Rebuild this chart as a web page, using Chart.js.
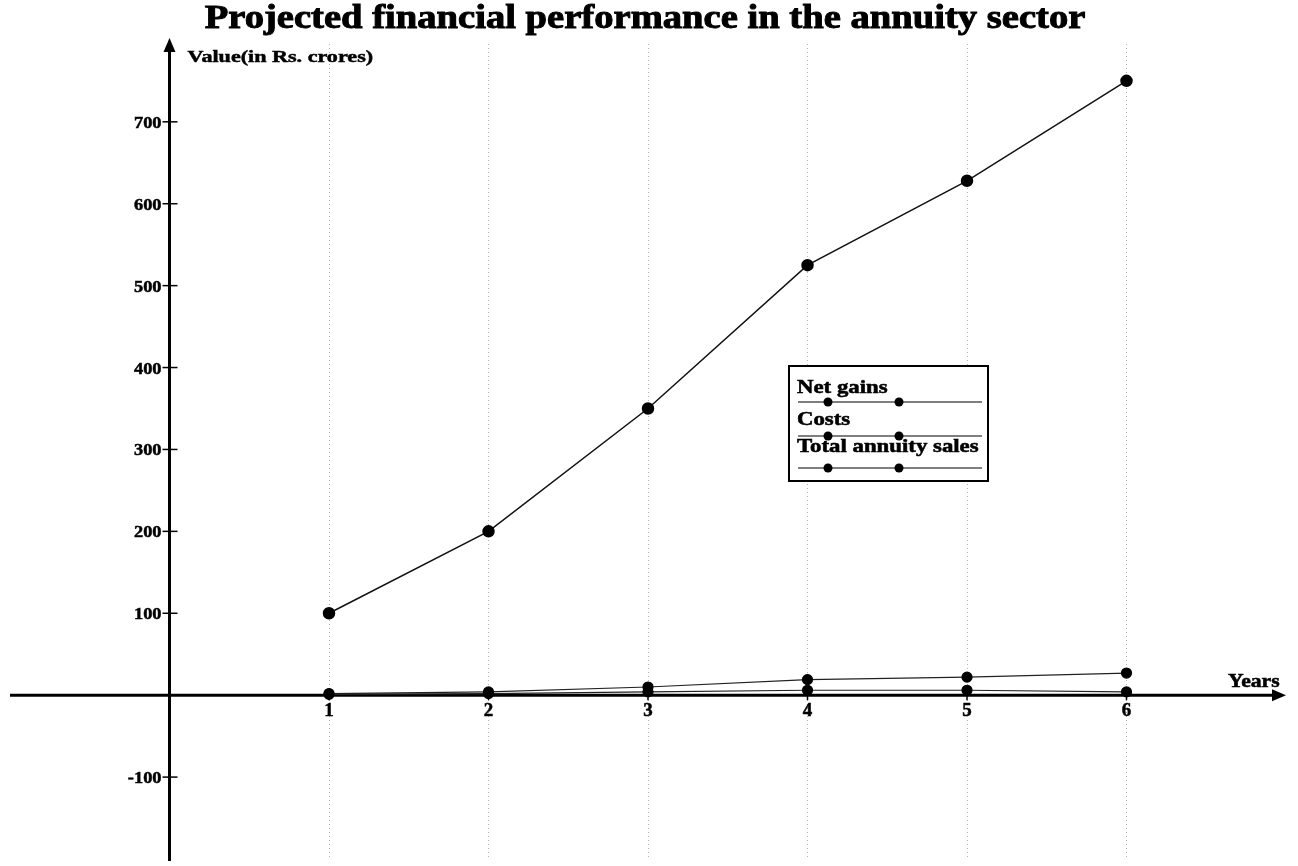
<!DOCTYPE html>
<html>
<head>
<meta charset="utf-8">
<script src="https://cdn.jsdelivr.net/npm/chart.js@4"></script>
<style>
  html, body { margin: 0; padding: 0; background: #fff; }
  #wrap { width: 1298px; height: 866px; }
</style>
</head>
<body>
<div id="wrap"><canvas id="chartCanvas"></canvas></div>
<script>
let years = [1, 2, 3, 4, 5, 6];
let netGains = [1, 2, 4, 6, 6, 4];
let costs = [2, 4, 10, 19, 22, 27];
let totalSales = [100, 200, 350, 525, 628, 750];
let seriesNames = ['Net gains', 'Costs', 'Total annuity sales'];
let yTickLabels = [-100, 100, 200, 300, 400, 500, 600, 700];

const SERIF = '"Liberation Serif", "Times New Roman", serif';

function toPoints(values) {
  return values.map((v, i) => ({ x: years[i], y: v }));
}

// heavy, slightly widened serif text
function wideText(ctx, text, x, y, size, stretch, align) {
  ctx.save();
  ctx.font = 'bold ' + size + 'px ' + SERIF;
  let w = ctx.measureText(text).width * stretch;
  let left = align === 'center' ? x - w / 2 : align === 'right' ? x - w : x;
  ctx.translate(left, y);
  ctx.scale(stretch, 1);
  ctx.textAlign = 'left';
  ctx.textBaseline = 'alphabetic';
  ctx.lineWidth = size / 35;
  ctx.fillStyle = '#000';
  ctx.strokeStyle = '#000';
  ctx.fillText(text, 0, 0);
  ctx.strokeText(text, 0, 0);
  ctx.restore();
}

function drawArrowLine(ctx, x1, y1, x2, y2) {
  let ang = Math.atan2(y2 - y1, x2 - x1);
  ctx.beginPath();
  ctx.moveTo(x1, y1);
  ctx.lineTo(x2 - 10 * Math.cos(ang), y2 - 10 * Math.sin(ang));
  ctx.stroke();
  ctx.beginPath();
  ctx.moveTo(x2, y2);
  ctx.lineTo(x2 - 14 * Math.cos(ang) + 6 * Math.sin(ang), y2 - 14 * Math.sin(ang) - 6 * Math.cos(ang));
  ctx.lineTo(x2 - 14 * Math.cos(ang) - 6 * Math.sin(ang), y2 - 14 * Math.sin(ang) + 6 * Math.cos(ang));
  ctx.closePath();
  ctx.fill();
}

// axis lines with arrows, crossing ticks and labels on the value axis, titles
const axesPlugin = {
  id: 'axesPlugin',
  beforeDatasetsDraw(chart) {
    let ctx = chart.ctx;
    let xs = chart.scales.x, ys = chart.scales.y;
    let area = chart.chartArea;
    let x0 = xs.getPixelForValue(0);
    let y0 = ys.getPixelForValue(0);
    ctx.save();
    ctx.strokeStyle = '#000';
    ctx.fillStyle = '#000';
    ctx.lineWidth = 3;
    drawArrowLine(ctx, area.left, y0, area.right, y0);
    drawArrowLine(ctx, x0, area.bottom + 2, x0, area.top - 6);

    yTickLabels.forEach(v => {
      let py = ys.getPixelForValue(v);
      ctx.strokeStyle = '#000';
      ctx.lineWidth = 1.5;
      ctx.beginPath();
      ctx.moveTo(x0 - 7, py);
      ctx.lineTo(x0 + 8, py);
      ctx.stroke();
      wideText(ctx, String(v), x0 - 8, py + 6, 17, 1.08, 'right');
    });

    xs.ticks.forEach(t => {
      if (t.value < 1 || t.value > 6) return;
      let px = xs.getPixelForValue(t.value);
      ctx.strokeStyle = '#000';
      ctx.lineWidth = 1.5;
      ctx.beginPath();
      ctx.moveTo(px, y0);
      ctx.lineTo(px, y0 + 5);
      ctx.stroke();
      wideText(ctx, String(t.value), px, y0 + 21, 18, 1.05, 'center');
    });

    wideText(ctx, 'Value(in Rs. crores)', x0 + 18, 62, 17, 1.3, 'left');
    wideText(ctx, 'Years', 1228, 687, 18, 1.2, 'left');
    wideText(ctx, 'Projected financial performance in the annuity sector', 645, 28, 33, 1.17, 'center');
    ctx.restore();
  },
  afterDraw(chart) {
    // boxed legend: name on top, line sample with two dots beneath
    let ctx = chart.ctx;
    let bx = 789, by = 366, bw = 199, bh = 115;
    ctx.save();
    ctx.fillStyle = '#fff';
    ctx.fillRect(bx, by, bw, bh);
    ctx.strokeStyle = '#000';
    ctx.lineWidth = 2;
    ctx.strokeRect(bx, by, bw, bh);
    let baselines = [393, 425, 452];
    let lineYs = [402, 436, 468];
    seriesNames.forEach((name, i) => {
      wideText(ctx, name, 797, baselines[i], 19, 1.2, 'left');
      ctx.strokeStyle = '#555';
      ctx.fillStyle = '#000';
      ctx.lineWidth = 1.5;
      ctx.beginPath();
      ctx.moveTo(798, lineYs[i]);
      ctx.lineTo(982, lineYs[i]);
      ctx.stroke();
      [828, 899].forEach(cx => {
        ctx.beginPath();
        ctx.arc(cx, lineYs[i], 4.5, 0, Math.PI * 2);
        ctx.fill();
      });
    });
    ctx.restore();
  }
};

let ctx = document.getElementById('chartCanvas').getContext('2d');
let chartInstance = new Chart(ctx, {
  type: 'line',
  data: {
    datasets: [
      { label: seriesNames[0], data: toPoints(netGains), borderColor: '#222', borderWidth: 1.2,
        pointRadius: 5, pointBackgroundColor: '#000', pointBorderColor: '#000' },
      { label: seriesNames[1], data: toPoints(costs), borderColor: '#222', borderWidth: 1.2,
        pointRadius: 5, pointBackgroundColor: '#000', pointBorderColor: '#000' },
      { label: seriesNames[2], data: toPoints(totalSales), borderColor: '#111', borderWidth: 1.5,
        pointRadius: 5.5, pointBackgroundColor: '#000', pointBorderColor: '#000' }
    ]
  },
  options: {
    responsive: true,
    maintainAspectRatio: false,
    animation: false,
    layout: { padding: { left: 10, right: 12, top: 44, bottom: 1 } },
    plugins: {
      legend: { display: false },
      title: { display: false },
      tooltip: { enabled: false }
    },
    scales: {
      x: {
        type: 'linear',
        position: { y: 0 },
        min: -1,
        max: 7,
        afterFit: s => { s.height = 0; },
        border: { display: false, dash: [1, 3] },
        grid: {
          color: ctx => (ctx.tick && ctx.tick.value >= 1 && ctx.tick.value <= 6 ? 'rgba(0,0,0,0.3)' : 'rgba(0,0,0,0)'),
          lineWidth: 1,
          drawTicks: false
        },
        ticks: { stepSize: 1, display: false }
      },
      y: {
        type: 'linear',
        position: { x: 0 },
        min: -200,
        max: 795,
        afterFit: s => { s.width = 0; },
        border: { display: false },
        grid: { display: false },
        ticks: { stepSize: 100, display: false }
      }
    }
  },
  plugins: [axesPlugin]
});
</script>
</body>
</html>
